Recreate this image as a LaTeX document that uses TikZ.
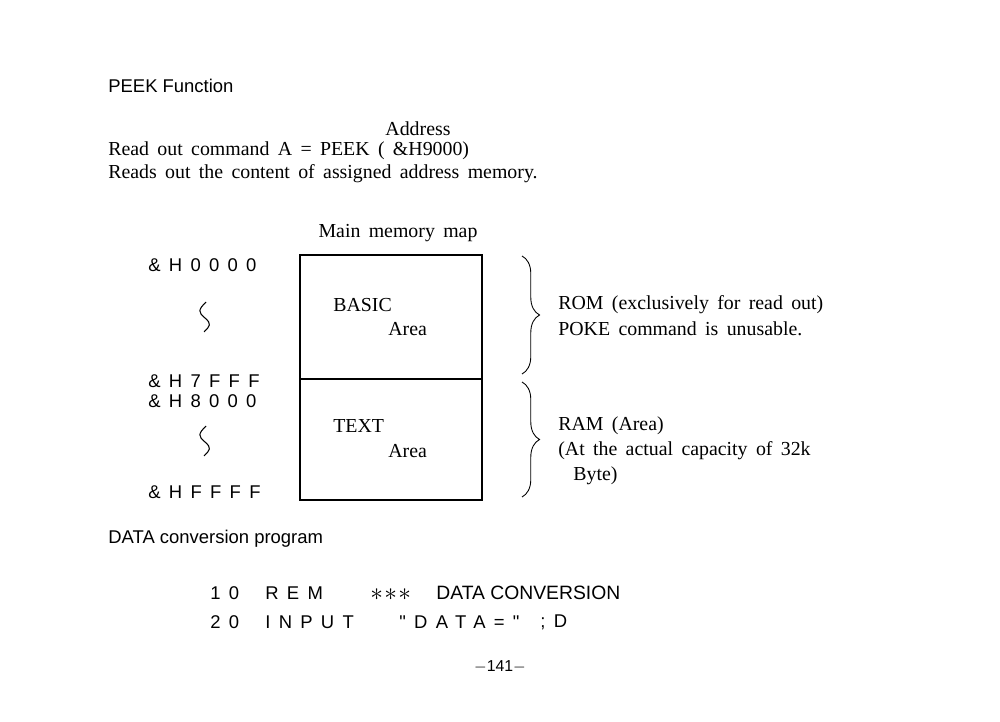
\documentclass[tikz,border=0pt]{standalone}
\usepackage{fontspec}
\setmainfont{Liberation Serif}
\newfontfamily\sansf{Liberation Sans}
\newfontfamily\sansls[LetterSpace=45]{Liberation Sans}
\newcommand\myser{\fontsize{11.3}{13}\selectfont\spaceskip=0.42em\relax}
\usetikzlibrary{decorations.pathreplacing}
\begin{document}
\begin{tikzpicture}[x=0.02cm,y=-0.02cm,
  ser/.style={anchor=west,inner sep=0,font=\myser},
  san/.style={anchor=west,inner sep=0,font=\sansf\fontsize{10.5}{13}\selectfont},
  sls/.style={anchor=west,inner sep=0,font=\sansls\fontsize{10.5}{13}\selectfont},
  br/.style={decorate,decoration={brace,amplitude=10pt},line width=0.5pt},
  wav/.style={line width=0.6pt}]
\useasboundingbox (0,0) rectangle (1000,722);
\node[san] (t1) at (108,86) {PEEK Function};
\node[ser,anchor=center] (ad) at (418,129) {Address};
\node[ser] (l1) at (108,151) {Read out command A = PEEK ( \&H9000)};
\node[ser] (l2) at (108,174) {Reads out the content of assigned address memory.};
\node[ser,anchor=center] (mm) at (398,233) {Main memory map};
\draw[line width=0.6pt] (300,255) rectangle (482,500);
\draw[line width=0.6pt] (300,379) -- (482,379);
\node[sls] (a0) at (148,265) {\&H0000};
\node[sls] (a1) at (148,381) {\&H7FFF};
\node[sls] (a2) at (148,401) {\&H8000};
\node[sls] (a3) at (148,492) {\&HFFFF};
\draw[wav] (206,302) .. controls (198,310) and (198,312) .. (205,318) .. controls (212,324) and (210,326) .. (204,332);
\draw[wav] (206,426) .. controls (198,434) and (198,436) .. (205,442) .. controls (212,448) and (210,450) .. (204,456);
\node[ser] (b1) at (333,305) {BASIC};
\node[ser] (b2) at (388,329) {Area};
\node[ser] (c1) at (333,426) {TEXT};
\node[ser] (c2) at (388,451) {Area};
\draw[br] (522,256) -- (522,374);
\draw[br] (522,382) -- (522,497);
\node[ser] (r1) at (558,305) {ROM (exclusively for read out)};
\node[ser] (r2) at (558,329) {POKE command is unusable.};
\node[ser] (s1) at (558,426) {RAM (Area)};
\node[ser] (s2) at (558,451) {(At the actual capacity of 32k};
\node[ser] (s3) at (573,476) {Byte)};
\node[san] (d) at (108,539) {DATA conversion program};
\node[sls] (p1) at (210,593) {10};
\node[sls] (p1b) at (265,593) {REM};
\node[san] (p1c) at (370,595) {\fontsize{14}{14}\selectfont $\ast\!\ast\!\ast$};
\node[san] (p1d) at (436,593) {\fontsize{11}{13}\selectfont DATA CONVERSION};
\node[sls] (p2) at (210,622) {20};
\node[sls] (p2b) at (265,622) {INPUT};
\node[sls] (p2c) at (399,622) {"DATA="};
\node[sls] (p2d) at (540,622) {;D};
\node[san,anchor=center] (pg) at (500,667) {\fontsize{9}{11}\selectfont $-$141$-$};
\end{tikzpicture}
\end{document}
